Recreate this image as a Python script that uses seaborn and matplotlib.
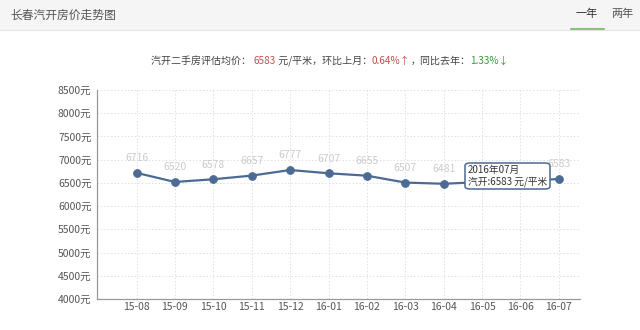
import matplotlib
matplotlib.use("Agg")
import matplotlib.pyplot as plt
import seaborn as sns
import pandas as pd
from matplotlib.patches import FancyBboxPatch, Rectangle
from matplotlib.lines import Line2D

months = ["15-08", "15-09", "15-10", "15-11", "15-12", "16-01",
          "16-02", "16-03", "16-04", "16-05", "16-06", "16-07"]
prices = [6716, 6520, 6578, 6657, 6777, 6707, 6655, 6507, 6481, 6519, 6541, 6583]
yticks = [4000, 4500, 5000, 5500, 6000, 6500, 7000, 7500, 8000, 8500]
hidden_labels = ["16-05", "16-06"]

sns.set_theme(style="white")
plt.rcParams['font.family'] = ['Noto Sans CJK SC', 'DejaVu Sans']

df = pd.DataFrame({"month": months, "price": prices})
df["idx"] = range(len(months))

fig = plt.figure(figsize=(6.4, 3.3), dpi=100)
fig.patch.set_facecolor("white")

# header band
fig.patches.append(Rectangle((0, 1 - 30/330), 1, 30/330, transform=fig.transFigure,
                             facecolor="#f5f5f5", edgecolor="none", zorder=0))
fig.lines.append(Line2D([0, 1], [1 - 30/330, 1 - 30/330], transform=fig.transFigure,
                        color="#e6e6e6", lw=0.8))
fig.text(10/640, 1 - 15/330, "长春汽开房价走势图", fontsize=8.5, color="#555555",
         va="center", ha="left")
fig.text(587/640, 1 - 14/330, "一年", fontsize=8, color="#333333", va="center", ha="center")
fig.text(622/640, 1 - 14/330, "两年", fontsize=8, color="#555555", va="center", ha="center")
fig.lines.append(Line2D([571/640, 604/640], [1 - 28.5/330, 1 - 28.5/330],
                        transform=fig.transFigure, color="#8fbf7f", lw=1.5))

# subtitle with coloured parts
parts = [("汽开二手房评估均价： ", "#444444"), ("6583", "#c0504d"), (" 元/平米，环比上月：", "#444444"),
         ("0.64%↑", "#c0504d"), ("，同比去年：", "#444444"), ("1.33%↓", "#3a9a3a")]
x0 = 151/640
y0 = 1 - 61/330
renderer = fig.canvas.get_renderer()
for txt, col in parts:
    t = fig.text(x0, y0, txt, fontsize=7.2, color=col, va="center", ha="left")
    bb = t.get_window_extent(renderer=renderer)
    x0 += bb.width / 640

ax = fig.add_axes([97/640, 1 - 299/330, (580 - 97)/640, (299 - 90)/330])
line_color = "#4b6b94"
sns.lineplot(data=df, x="idx", y="price", ax=ax, color=line_color, lw=1.6,
             marker="o", markersize=5.5, markeredgecolor=line_color, zorder=3)

ax.set_xlim(-1.03, 11.55)
ax.set_ylim(4000, 8500)
ax.set_yticks(yticks)
ax.set_yticklabels([f"{v}元" for v in yticks], fontsize=7.5, color="#555555")
ax.set_xticks(range(len(months)))
ax.set_xticklabels(months, fontsize=7.5, color="#555555")
ax.set_xlabel("")
ax.set_ylabel("")
ax.tick_params(axis="x", length=0, pad=2)
ax.tick_params(axis="y", length=0, pad=4)

for s in ["top", "right"]:
    ax.spines[s].set_visible(False)
for s in ["left", "bottom"]:
    ax.spines[s].set_color("#999999")
    ax.spines[s].set_linewidth(0.9)

ax.grid(True, linestyle=(0, (1.5, 2)), color="#e0e0e0", lw=0.7)
ax.set_axisbelow(True)

for i, (m, p) in enumerate(zip(months, prices)):
    if m in hidden_labels:
        continue
    ax.annotate(str(p), (i, p), xytext=(0, 7), textcoords="offset points",
                ha="center", va="bottom", fontsize=7.5, color="#cbcbcb", zorder=2)

# tooltip
tip = FancyBboxPatch((465/640, 1 - 189/330), (550 - 465)/640, (189 - 163)/330,
                     boxstyle="round,pad=0,rounding_size=0.008", transform=fig.transFigure,
                     facecolor="white", edgecolor=line_color, lw=1.1, zorder=5)
fig.patches.append(tip)
fig.text(468/640, 1 - 170/330, "2016年07月", fontsize=7, color="#333333",
         va="center", ha="left", zorder=6)
fig.text(468/640, 1 - 182/330, "汽开:6583 元/平米", fontsize=7, color="#333333",
         va="center", ha="left", zorder=6)

fig.savefig("out.png", dpi=100, facecolor="white")
